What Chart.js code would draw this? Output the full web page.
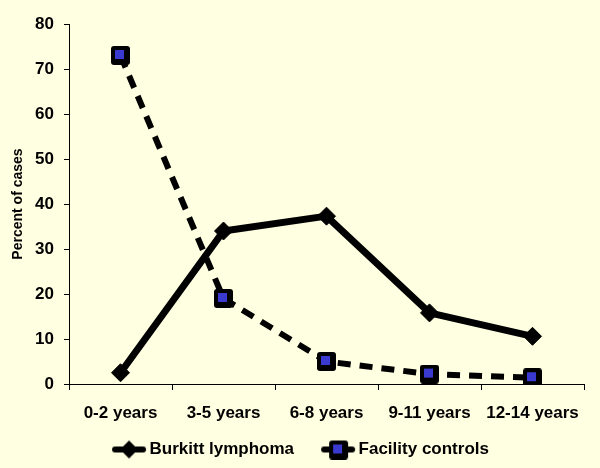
<!DOCTYPE html>
<html>
<head>
<meta charset="utf-8">
<script src="https://cdn.jsdelivr.net/npm/chart.js@4/dist/chart.umd.min.js"></script>
<style>
  html, body { margin: 0; padding: 0; background: #ffffe1; }
  #wrap { width: 600px; height: 468px; }
</style>
</head>
<body>
<div id="wrap"><canvas id="myChart" width="600" height="468"></canvas></div>
<script>
// données
const ageGroups = ['0-2 years', '3-5 years', '6-8 years', '9-11 years', '12-14 years'];
const burkittValues = [2.5, 34, 37.3, 15.8, 10.6];
const controlValues = [73, 19, 5, 2.2, 1.4];
const seriesNames = ['Burkitt lymphoma', 'Facility controls'];
const yTicks = [0, 10, 20, 30, 40, 50, 60, 70, 80];

const fontFamily = '"Liberation Sans", Arial, sans-serif';

// marqueur carré noir avec intérieur bleu
function makeSquareMarker() {
    let c = document.createElement('canvas');
    c.width = 19;
    c.height = 19;
    let g = c.getContext('2d');
    g.fillStyle = '#000';
    g.beginPath();
    g.roundRect(0, 0, 19, 19, 3);
    g.fill();
    g.fillStyle = '#3a3ad0';
    g.fillRect(4, 4, 9, 9);
    return c;
}

// petite image pour la légende : ligne + marqueur
// (marge vide à gauche pour espacer les items, déborde un peu à droite vers le texte)
function makeLegendIcon(dashed) {
    let c = document.createElement('canvas');
    c.width = 58;
    c.height = 20;
    let g = c.getContext('2d');
    g.strokeStyle = '#000';
    g.lineWidth = 6;
    g.lineCap = 'round';
    g.beginPath();
    g.moveTo(26, 10);
    g.lineTo(54, 10);
    g.stroke();
    if (dashed) {
        g.drawImage(makeSquareMarker(), 31, 1);
    } else {
        g.fillStyle = '#000';
        g.beginPath();
        g.moveTo(40, 1);
        g.lineTo(49, 10);
        g.lineTo(40, 19);
        g.lineTo(31, 10);
        g.closePath();
        g.fill();
    }
    return c;
}

let squareMarker = makeSquareMarker();
let legendIcons = [makeLegendIcon(false), makeLegendIcon(true)];

let ctx = document.getElementById('myChart').getContext('2d');

let myChart = new Chart(ctx, {
    type: 'line',
    data: {
        labels: ageGroups,
        datasets: [{
            label: seriesNames[0],
            data: burkittValues,
            borderColor: '#000',
            backgroundColor: '#000',
            borderWidth: 7,
            pointStyle: 'rectRot',
            pointRadius: 9,
            pointBorderWidth: 1,
            pointBackgroundColor: '#000',
            pointBorderColor: '#000',
            tension: 0
        }, {
            label: seriesNames[1],
            data: controlValues,
            borderColor: '#000',
            backgroundColor: '#000',
            borderWidth: 6,
            borderDash: [13, 9],
            pointStyle: squareMarker,
            tension: 0
        }]
    },
    options: {
        responsive: false,
        animation: false,
        layout: {
            padding: { top: 24, right: 16, left: 0, bottom: 0 }
        },
        plugins: {
            tooltip: { enabled: false },
            legend: {
                position: 'bottom',
                labels: {
                    usePointStyle: true,
                    pointStyleWidth: 46,
                    color: '#000',
                    padding: 10,
                    font: { family: fontFamily, size: 17, weight: 'bold' },
                    generateLabels: function(chart) {
                        return chart.data.datasets.map(function(ds, i) {
                            return {
                                text: ds.label,
                                pointStyle: legendIcons[i],
                                fillStyle: '#000',
                                strokeStyle: '#000',
                                lineWidth: 0,
                                datasetIndex: i,
                                fontColor: '#000'
                            };
                        });
                    }
                }
            }
        },
        scales: {
            x: {
                offset: true,
                grid: {
                    offset: true,
                    drawOnChartArea: false,
                    drawTicks: true,
                    tickLength: 6,
                    color: '#000'
                },
                border: { color: '#000', width: 1 },
                ticks: {
                    color: '#000',
                    padding: 13,
                    font: { family: fontFamily, size: 17, weight: 'bold' }
                },
                afterFit: function(scale) {
                    scale.height = 47;
                }
            },
            y: {
                min: 0,
                max: 80,
                afterBuildTicks: function(scale) {
                    scale.ticks = yTicks.map(function(v) { return { value: v }; });
                },
                grid: {
                    drawOnChartArea: false,
                    drawTicks: true,
                    tickLength: 5,
                    color: '#000'
                },
                border: { color: '#000', width: 1 },
                ticks: {
                    color: '#000',
                    padding: 10,
                    font: { family: fontFamily, size: 17, weight: 'bold' }
                },
                title: {
                    display: true,
                    text: 'Percent of cases',
                    color: '#000',
                    padding: { top: 10, bottom: 0 },
                    font: { family: fontFamily, size: 14, weight: 'bold' }
                },
                afterFit: function(scale) {
                    scale.width = 69;
                }
            }
        }
    }
});
</script>
</body>
</html>
